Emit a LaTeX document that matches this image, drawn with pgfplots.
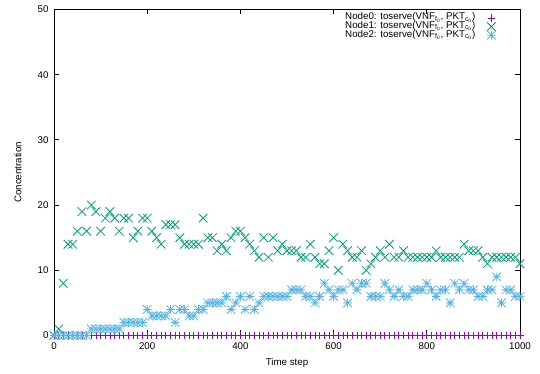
\documentclass[border=0pt]{standalone}
\usepackage{pgfplots}
\pgfplotsset{compat=1.18}
\usepackage{pgfplotstable}
\usepackage{fontspec}
\setmainfont{Liberation Sans}

\definecolor{gpviolet}{HTML}{9400D3}
\definecolor{gpgreen}{HTML}{009E73}
\definecolor{gpblue}{HTML}{56B4E9}

% gnuplot-style point types: plus, cross, and the combined star
\pgfdeclareplotmark{gpplus}{%
  \pgfpathmoveto{\pgfqpoint{-\pgfplotmarksize}{0pt}}%
  \pgfpathlineto{\pgfqpoint{\pgfplotmarksize}{0pt}}%
  \pgfpathmoveto{\pgfqpoint{0pt}{-\pgfplotmarksize}}%
  \pgfpathlineto{\pgfqpoint{0pt}{\pgfplotmarksize}}%
  \pgfusepathqstroke}
\pgfdeclareplotmark{gpx}{%
  \pgfpathmoveto{\pgfqpoint{-\pgfplotmarksize}{-\pgfplotmarksize}}%
  \pgfpathlineto{\pgfqpoint{\pgfplotmarksize}{\pgfplotmarksize}}%
  \pgfpathmoveto{\pgfqpoint{-\pgfplotmarksize}{\pgfplotmarksize}}%
  \pgfpathlineto{\pgfqpoint{\pgfplotmarksize}{-\pgfplotmarksize}}%
  \pgfusepathqstroke}
\pgfdeclareplotmark{gpstar}{%
  \pgfpathmoveto{\pgfqpoint{-\pgfplotmarksize}{0pt}}%
  \pgfpathlineto{\pgfqpoint{\pgfplotmarksize}{0pt}}%
  \pgfpathmoveto{\pgfqpoint{0pt}{-\pgfplotmarksize}}%
  \pgfpathlineto{\pgfqpoint{0pt}{\pgfplotmarksize}}%
  \pgfpathmoveto{\pgfqpoint{-\pgfplotmarksize}{-\pgfplotmarksize}}%
  \pgfpathlineto{\pgfqpoint{\pgfplotmarksize}{\pgfplotmarksize}}%
  \pgfpathmoveto{\pgfqpoint{-\pgfplotmarksize}{\pgfplotmarksize}}%
  \pgfpathlineto{\pgfqpoint{\pgfplotmarksize}{-\pgfplotmarksize}}%
  \pgfusepathqstroke}

% concentration of each node over time
\pgfplotstableread{
t n0 n1 n2
0 0 0 0
10 0 1 0
20 0 8 0
30 0 14 0
40 0 14 0
50 0 16 0
60 0 19 0
70 0 16 0
80 0 20 1
90 0 19 1
100 0 16 1
110 0 18 1
120 0 19 1
130 0 18 1
140 0 16 1
150 0 18 2
160 0 18 2
170 0 15 2
180 0 16 2
190 0 18 2
200 0 18 4
210 0 16 3
220 0 15 3
230 0 14 3
240 0 17 3
250 0 17 4
260 0 17 2
270 0 15 4
280 0 14 4
290 0 14 3
300 0 14 3
310 0 14 4
320 0 18 4
330 0 15 5
340 0 15 5
350 0 13 5
360 0 14 5
370 0 13 6
380 0 15 4
390 0 16 5
400 0 16 6
410 0 15 4
420 0 14 6
430 0 13 4
440 0 12 5
450 0 15 6
460 0 12 6
470 0 15 6
480 0 13 6
490 0 14 6
500 0 13 6
510 0 13 7
520 0 13 7
530 0 12 7
540 0 12 6
550 0 14 6
560 0 12 5
570 0 11 6
580 0 11 8
590 0 13 7
600 0 15 6
610 0 10 7
620 0 14 7
630 0 13 5
640 0 12 8
650 0 12 7
660 0 13 8
670 0 10 8
680 0 11 6
690 0 12 6
700 0 13 6
710 0 12 8
720 0 14 7
730 0 12 6
740 0 12 7
750 0 13 6
760 0 12 6
770 0 12 7
780 0 12 7
790 0 12 7
800 0 12 8
810 0 12 7
820 0 13 6
830 0 12 7
840 0 12 7
850 0 12 5
860 0 12 8
870 0 12 7
880 0 14 8
890 0 13 7
900 0 13 7
910 0 13 6
920 0 12 6
930 0 11 7
940 0 12 7
950 0 12 9
960 0 12 5
970 0 12 7
980 0 12 7
990 0 12 6
1000 0 11 6
}\conc

\begin{document}
\fontsize{9.8}{11.5}\selectfont
\begin{tikzpicture}[font=\fontsize{9.8}{11.5}\selectfont]
\begin{axis}[
  name=ax,
  scale only axis, width=466bp, height=326bp,
  xmin=0, xmax=1000, ymin=0, ymax=50,
  xtick={0,200,...,1000}, ytick={0,10,...,50},
  minor tick num=0,
  tick align=inside, major tick length=5bp,
  axis line style={black, line width=0.9bp},
  tick style={black, line width=0.8bp},
  /pgf/number format/assume math mode=true,
  /pgf/number format/1000 sep={},
  xticklabel style={yshift=-4bp},
  yticklabel style={xshift=-2bp},
  xlabel={Time step}, ylabel={Concentration},
  xlabel style={at={(axis description cs:0.5,0)}, anchor=north, yshift=-23bp, inner sep=0pt},
  ylabel style={at={(axis description cs:-0.0773,0.5)}, anchor=center, inner sep=0pt},
  clip=false,
  legend plot pos=right,
  legend cell align=right,
  legend image code/.code={\draw[#1, only marks] plot coordinates {(0bp,0bp)};},
  legend style={at={(axis description cs:1,1)}, anchor=north east,
    xshift=-24.3bp, yshift=-4.5bp, draw=none, fill=none,
    inner sep=0pt, outer sep=0pt, row sep=0pt, column sep=11.7bp,
    nodes={inner sep=0pt, text height=6bp, text depth=2.3bp}},
]
\addplot[only marks, gpviolet, mark=gpplus, mark size=3.8bp, line width=0.8bp]
  table[x=t, y=n0]{\conc};
\addlegendentry{Node0: toserve(VNF\textsubscript{f\textsubscript{0}}, PKT\textsubscript{c\textsubscript{0}})}
\addplot[only marks, gpgreen, mark=gpx, mark size=4.3bp, line width=0.8bp]
  table[x=t, y=n1]{\conc};
\addlegendentry{Node1: toserve(VNF\textsubscript{f\textsubscript{0}}, PKT\textsubscript{c\textsubscript{0}})}
\addplot[only marks, gpblue, mark=gpstar, mark size=4.3bp, line width=0.8bp]
  table[x=t, y=n2]{\conc};
\addlegendentry{Node2: toserve(VNF\textsubscript{f\textsubscript{0}}, PKT\textsubscript{c\textsubscript{0}})}
\end{axis}
\pgfresetboundingbox
\path ([shift={(-54bp,-38.5bp)}]ax.south west) rectangle ([shift={(20bp,9.5bp)}]ax.north east);
\end{tikzpicture}
\end{document}
